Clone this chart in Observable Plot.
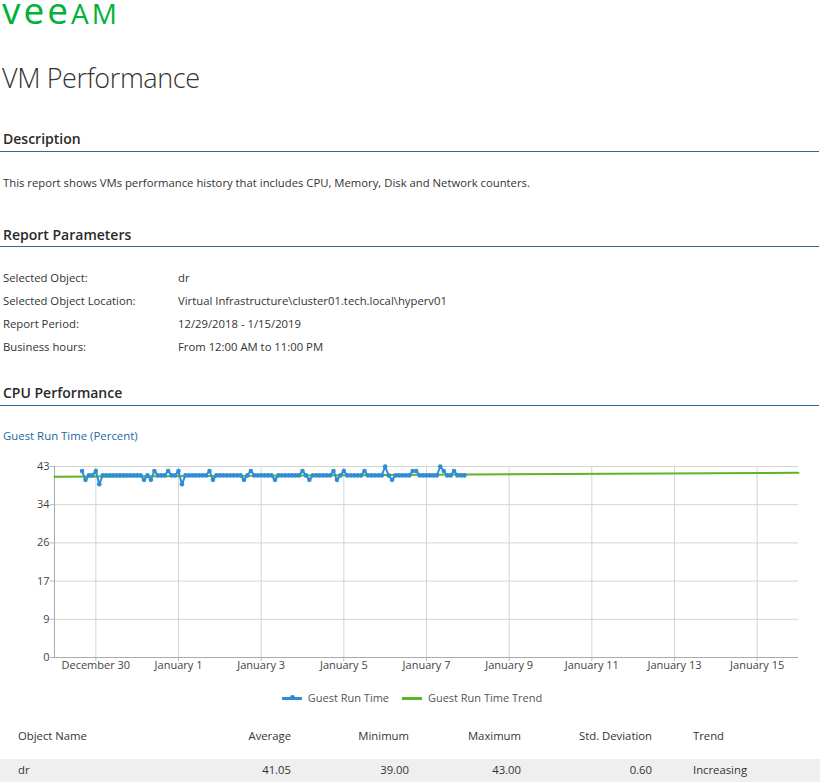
<!DOCTYPE html>
<html>
<head>
<meta charset="utf-8">
<script src="https://cdn.jsdelivr.net/npm/d3@7"></script>
<script src="https://cdn.jsdelivr.net/npm/@observablehq/plot@0.6"></script>
<style>
  html, body { margin: 0; padding: 0; background: #fff; }
  body { width: 824px; height: 783px; position: relative; overflow: hidden; font-family: "Open Sans", sans-serif; color: #333; }
  .abs { position: absolute; white-space: nowrap; }
  .logo { left: 2px; top: 1px; height: 26px; line-height: 17px; color: #00b336; font-family: "Open Sans", sans-serif; font-weight: 400; letter-spacing: 3px; }
  .logo span { display: inline-block; line-height: 17px; vertical-align: baseline; }
  .title { left: 2px; top: 59px; font-size: 27px; letter-spacing: -0.4px; font-weight: 300; color: #333; }
  .h2 { left: 3px; font-size: 14px; font-weight: 600; color: #2a2a2a; }
  .rule { left: 0; width: 819px; height: 0; border-top: 1px solid #2d6b9f; }
  .txt { font-size: 11.3px; color: #333; }
  .ctitle { left: 3px; top: 428px; font-size: 11.4px; color: #2468a2; }
  .legend { top: 690px; left: 0; width: 824px; text-align: center; font-size: 11px; color: #555; }
  .legend span.item { display: inline-block; margin: 0 5px; }
  .sw { display: inline-block; width: 20px; height: 3px; vertical-align: middle; margin-right: 6px; position: relative; top: -1px; }
  .sw .mk { position: absolute; left: 8px; top: -1.5px; width: 5px; height: 5px; border-radius: 50%; background: #2f8dd6; }
  .tbl { font-size: 11.3px; color: #333; }
  .rowbg { left: 0; top: 759px; width: 820px; height: 23px; background: #efefef; }
</style>
</head>
<body>
<div class="abs logo"><span style="font-size:37px">vee</span><span style="font-size:28px">AM</span></div>
<div class="abs title">VM Performance</div>

<div class="abs h2" style="top:129px">Description</div>
<div class="abs rule" style="top:151px"></div>
<div class="abs txt" style="left:3px;top:175px">This report shows VMs performance history that includes CPU, Memory, Disk and Network counters.</div>

<div class="abs h2" style="top:225px">Report Parameters</div>
<div class="abs rule" style="top:246px"></div>
<div id="params"></div>

<div class="abs h2" style="top:383px">CPU Performance</div>
<div class="abs rule" style="top:405px"></div>
<div class="abs ctitle">Guest Run Time (Percent)</div>

<div id="chart" class="abs" style="left:0;top:456px"></div>

<div class="abs legend">
  <span class="item"><span class="sw" style="background:#2f8dd6"><span class="mk"></span></span>Guest Run Time</span>
  <span class="item"><span class="sw" style="background:#5cb523"></span>Guest Run Time Trend</span>
</div>

<div class="abs rowbg"></div>
<div id="table"></div>

<script>
// ---------------- data ----------------
const paramLabels = ["Selected Object:", "Selected Object Location:", "Report Period:", "Business hours:"];
const paramValues = ["dr", "Virtual Infrastructure\\cluster01.tech.local\\hyperv01", "12/29/2018 - 1/15/2019", "From 12:00 AM to 11:00 PM"];

const seriesStart = "2018-12-29T16:00:00Z";   // first sample
const sampleHours = 2;                          // sampling interval
const guestRunTime = [
  42,40,41,41,42,39,41,41,41,41,
  41,41,41,41,41,41,41,41,40,41,
  40,42,41,41,41,42,41,41,42,39,
  41,41,41,41,41,41,41,42,40,41,
  41,41,41,41,41,41,41,40,41,42,
  41,41,41,41,41,41,40,41,41,41,
  41,41,41,41,42,41,40,41,41,41,
  41,41,41,42,40,41,42,41,41,41,
  41,41,42,41,41,41,41,41,43,41,
  40,41,41,41,41,41,42,42,41,41,
  41,41,41,41,43,42,41,41,42,41,
  41,41
];

const trendDates = ["2018-12-29T00:00:00Z", "2019-01-16T00:00:00Z"];
const trendValues = [40.7, 41.6];

const xDomain = ["2018-12-29T00:00:00Z", "2019-01-16T00:00:00Z"];
const xTicks = ["2018-12-30", "2019-01-01", "2019-01-03", "2019-01-05", "2019-01-07", "2019-01-09", "2019-01-11", "2019-01-13", "2019-01-15"];
const yDomain = [0, 43];
const yTicks = [0, 8.6, 17.2, 25.8, 34.4, 43];
const yTickLabels = ["0", "9", "17", "26", "34", "43"];

const tableHeaders = ["Object Name", "Average", "Minimum", "Maximum", "Std. Deviation", "Trend"];
const tableRow = ["dr", "41.05", "39.00", "43.00", "0.60", "Increasing"];

// ---------------- parameters ----------------
const paramTops = [270, 293, 316, 339];
const pDiv = document.getElementById("params");
paramLabels.forEach((l, i) => {
  const a = document.createElement("div");
  a.className = "abs txt"; a.style.left = "3px"; a.style.top = paramTops[i] + "px"; a.textContent = l;
  const b = document.createElement("div");
  b.className = "abs txt"; b.style.left = "178px"; b.style.top = paramTops[i] + "px"; b.textContent = paramValues[i];
  pDiv.appendChild(a); pDiv.appendChild(b);
});

// ---------------- chart ----------------
const t0 = new Date(seriesStart).getTime();
const series = guestRunTime.map((v, i) => ({date: new Date(t0 + i * sampleHours * 3600e3), value: v}));
const trend = trendDates.map((d, i) => ({date: new Date(d), value: trendValues[i]}));
const xT = xTicks.map(d => new Date(d + "T00:00:00Z"));
const fmt = d3.utcFormat("%B %-d");

const chart = Plot.plot({
  width: 824,
  height: 223,
  marginLeft: 54,
  marginRight: 26,
  marginTop: 10,
  marginBottom: 22,
  style: {fontFamily: "Open Sans, sans-serif", fontSize: "11px", color: "#444", background: "transparent"},
  x: {type: "utc", domain: xDomain.map(d => new Date(d))},
  y: {domain: yDomain},
  marks: [
    Plot.gridY(yTicks, {stroke: "#d4d4d4", strokeOpacity: 1}),
    Plot.gridX(xT, {stroke: "#d4d4d4", strokeOpacity: 1}),
    Plot.axisX(xT, {tickFormat: fmt, tickSize: 4, tickPadding: 0, stroke: "#bbb", fill: "#444", label: null}),
    Plot.axisY(yTicks, {tickFormat: (d, i) => yTickLabels[i], tickSize: 4, tickPadding: 1, stroke: "#bbb", fill: "#444", label: null}),
    Plot.ruleX([new Date(xDomain[0])], {stroke: "#aaa"}),
    Plot.ruleY([0], {stroke: "#aaa"}),
    Plot.line(trend, {x: "date", y: "value", stroke: "#5cb523", strokeWidth: 2}),
    Plot.line(series, {x: "date", y: "value", stroke: "#2f8dd6", strokeWidth: 2}),
    Plot.dot(series, {x: "date", y: "value", r: 2.3, fill: "#2f8dd6"})
  ]
});
document.getElementById("chart").appendChild(chart);

// ---------------- table ----------------
const colDefs = [
  {left: 18, align: "left"},
  {right: 291, align: "right"},
  {right: 409, align: "right"},
  {right: 521, align: "right"},
  {right: 652, align: "right"},
  {left: 693, align: "left"}
];
const tDiv = document.getElementById("table");
function cell(text, c, top) {
  const e = document.createElement("div");
  e.className = "abs tbl";
  e.style.top = top + "px";
  if (c.align === "left") e.style.left = c.left + "px";
  else e.style.right = (824 - c.right) + "px";
  e.textContent = text;
  tDiv.appendChild(e);
}
tableHeaders.forEach((h, i) => cell(h, colDefs[i], 728));
tableRow.forEach((v, i) => cell(v, colDefs[i], 762));
</script>
</body>
</html>
